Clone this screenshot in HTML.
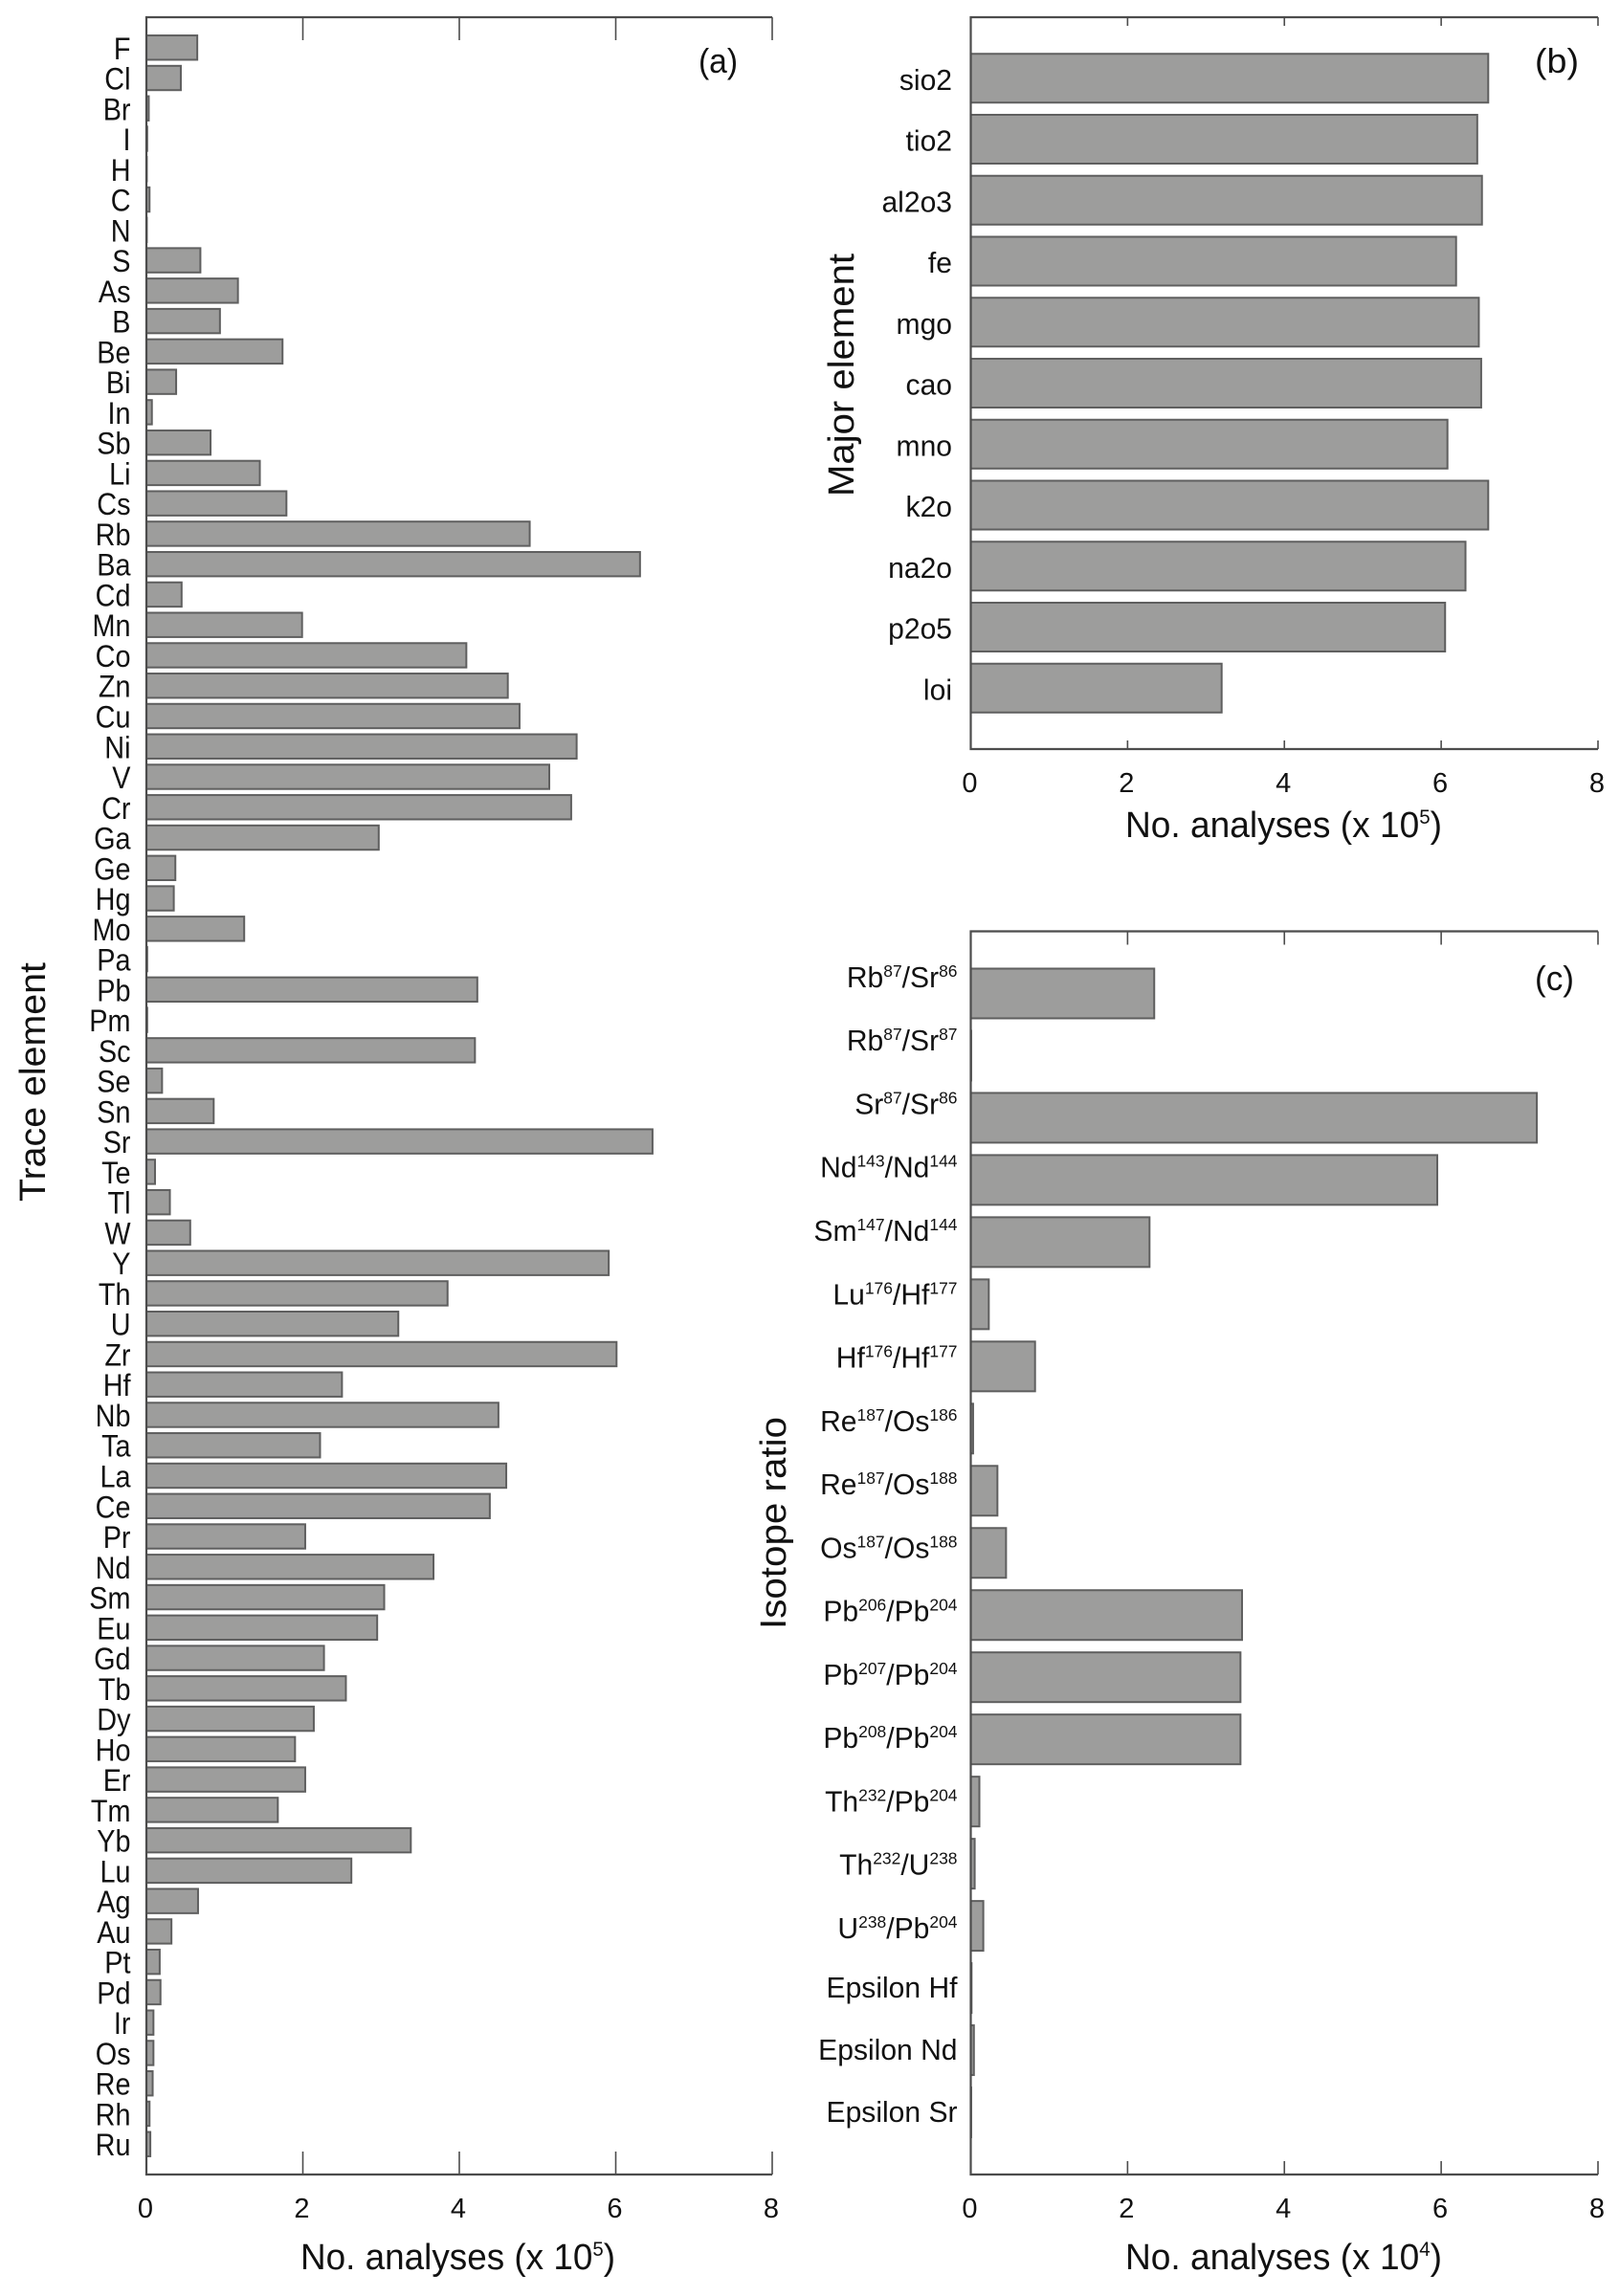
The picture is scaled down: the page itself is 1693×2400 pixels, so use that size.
<!DOCTYPE html>
<html lang="en">
<head>
<meta charset="utf-8">
<title>Number of analyses by trace element, major element and isotope ratio</title>
<style>
html,body{margin:0;padding:0;background:#fff;}
svg{display:block;font-family:"Liberation Sans",sans-serif;fill:#111;}
</style>
</head>
<body>
<svg id="figure" xmlns="http://www.w3.org/2000/svg" width="1693" height="2400" viewBox="0 0 1693 2400">
<rect x="0" y="0" width="1693" height="2400" fill="#fff"/>
<text transform="translate(47,1131) rotate(-90)" text-anchor="middle" font-size="38" textLength="250" lengthAdjust="spacingAndGlyphs">Trace element</text>
<text transform="translate(892,392) rotate(-90)" text-anchor="middle" font-size="38" textLength="254" lengthAdjust="spacingAndGlyphs">Major element</text>
<text transform="translate(821,1592) rotate(-90)" text-anchor="middle" font-size="38" textLength="222" lengthAdjust="spacingAndGlyphs">Isotope ratio</text>
<text x="314" y="2372" font-size="38" textLength="329" lengthAdjust="spacingAndGlyphs">No. analyses (x 10<tspan font-size="21" dy="-14">5</tspan><tspan dy="14">)</tspan></text>
<text x="1176" y="875" font-size="38" textLength="331" lengthAdjust="spacingAndGlyphs">No. analyses (x 10<tspan font-size="21" dy="-14">5</tspan><tspan dy="14">)</tspan></text>
<text x="1176" y="2372" font-size="38" textLength="331" lengthAdjust="spacingAndGlyphs">No. analyses (x 10<tspan font-size="21" dy="-14">4</tspan><tspan dy="14">)</tspan></text>
<text x="730" y="76" font-size="36" textLength="41" lengthAdjust="spacingAndGlyphs">(a)</text>
<text x="1604" y="76" font-size="36" textLength="46" lengthAdjust="spacingAndGlyphs">(b)</text>
<text x="1604" y="1035" font-size="36" textLength="41" lengthAdjust="spacingAndGlyphs">(c)</text>
</svg>
<script>
var tickLabels = ["0", "2", "4", "6", "8"];
var tickValues = [0, 2, 4, 6, 8];

var traceCategories = ["F","Cl","Br","I","H","C","N","S","As","B","Be","Bi","In","Sb","Li","Cs","Rb","Ba","Cd","Mn","Co","Zn","Cu","Ni","V","Cr","Ga","Ge","Hg","Mo","Pa","Pb","Pm","Sc","Se","Sn","Sr","Te","Tl","W","Y","Th","U","Zr","Hf","Nb","Ta","La","Ce","Pr","Nd","Sm","Eu","Gd","Tb","Dy","Ho","Er","Tm","Yb","Lu","Ag","Au","Pt","Pd","Ir","Os","Re","Rh","Ru"];
var traceValues = [0.65,0.44,0.03,0.01,0.005,0.04,0.005,0.69,1.17,0.94,1.74,0.38,0.07,0.82,1.45,1.79,4.90,6.31,0.45,1.99,4.09,4.62,4.77,5.50,5.15,5.43,2.97,0.37,0.35,1.25,0.01,4.23,0.01,4.20,0.20,0.86,6.47,0.11,0.30,0.56,5.91,3.85,3.22,6.01,2.50,4.50,2.22,4.60,4.39,2.03,3.67,3.04,2.95,2.27,2.55,2.14,1.90,2.03,1.68,3.38,2.62,0.66,0.32,0.17,0.18,0.09,0.09,0.08,0.04,0.05];

var majorCategories = ["sio2","tio2","al2o3","fe","mgo","cao","mno","k2o","na2o","p2o5","loi"];
var majorValues = [6.60,6.46,6.52,6.19,6.48,6.51,6.08,6.60,6.31,6.05,3.20];

var isotopeCategories = ["Rb^87/Sr^86","Rb^87/Sr^87","Sr^87/Sr^86","Nd^143/Nd^144","Sm^147/Nd^144","Lu^176/Hf^177","Hf^176/Hf^177","Re^187/Os^186","Re^187/Os^188","Os^187/Os^188","Pb^206/Pb^204","Pb^207/Pb^204","Pb^208/Pb^204","Th^232/Pb^204","Th^232/U^238","U^238/Pb^204","Epsilon Hf","Epsilon Nd","Epsilon Sr"];
var isotopeValues = [2.34,0.005,7.22,5.95,2.28,0.23,0.82,0.03,0.34,0.45,3.46,3.44,3.44,0.11,0.05,0.16,0.01,0.04,0.005];

var svg = document.getElementById("figure");
var NS = "http://www.w3.org/2000/svg";

function drawPanel(id, cats, vals, box, opt) {
  function xs(v) { return box.left + (v / 8) * (box.right - box.left); }
  function ys(r) { return box.top + (r / (cats.length + 1)) * (box.bottom - box.top); }
  var g = document.createElementNS(NS, "g");
  
  
  svg.appendChild(g);

  var step = ys(1) - ys(0);
  cats.forEach(function (cat, i) {
    var c = ys(i + 1);
    var bar = document.createElementNS(NS, "rect");
    
    
    bar.setAttribute("x", xs(0));
    bar.setAttribute("y", c - step * 0.4);
    bar.setAttribute("width", xs(vals[i]) - xs(0));
    bar.setAttribute("height", step * 0.8);
    bar.setAttribute("fill", "#9d9d9c");
    bar.setAttribute("stroke", "#5f5f5f");
    bar.setAttribute("stroke-width", "2");
    g.appendChild(bar);

    var label = document.createElementNS(NS, "text");
    
    
    var hasSup = cat.indexOf("^") >= 0;
    var by = c + opt.baseline;
    if (hasSup) { by = c - 6.6 + 1.3 * i; }
    label.setAttribute("transform", "translate(" + opt.labelRight + "," + by + ") scale(" + opt.labelScale + ",1)");
    label.setAttribute("text-anchor", "end");
    label.setAttribute("font-size", opt.labelSize);
    var parts = cat.split(/(\^\d+)/);
    var shifted = false;
    parts.forEach(function (p) {
      if (!p) { return; }
      var sp = document.createElementNS(NS, "tspan");
      if (p.charAt(0) === "^") {
        sp.setAttribute("font-size", "18");
        sp.setAttribute("dy", "-11");
        sp.textContent = p.slice(1);
        shifted = true;
      } else {
        if (shifted) { sp.setAttribute("dy", "11"); shifted = false; }
        sp.textContent = p;
      }
      label.appendChild(sp);
    });
    g.appendChild(label);
  });

  var frame = document.createElementNS(NS, "path");
  
  
  frame.setAttribute("d", "M" + box.right + " " + box.top + "H" + box.left + "V" + box.bottom + "H" + box.right);
  frame.setAttribute("fill", "none");
  frame.setAttribute("stroke", "#4c4c4c");
  frame.setAttribute("stroke-width", "2.2");
  g.appendChild(frame);

  tickValues.forEach(function (t, i) {
    var top = document.createElementNS(NS, "line");
    
    
    top.setAttribute("x1", xs(t));
    top.setAttribute("x2", xs(t));
    top.setAttribute("y1", box.top);
    top.setAttribute("y2", box.top + opt.tick);
    top.setAttribute("stroke", "#4c4c4c");
    top.setAttribute("stroke-width", "1.6");
    g.appendChild(top);

    var bottom = document.createElementNS(NS, "line");
    
    
    bottom.setAttribute("x1", xs(t));
    bottom.setAttribute("x2", xs(t));
    bottom.setAttribute("y1", box.bottom);
    bottom.setAttribute("y2", box.bottom - opt.tick);
    bottom.setAttribute("stroke", "#4c4c4c");
    bottom.setAttribute("stroke-width", "1.6");
    g.appendChild(bottom);

    var tl = document.createElementNS(NS, "text");
    
    
    tl.setAttribute("x", xs(t) - 1);
    tl.setAttribute("y", box.bottom + opt.tickLabelOffset);
    tl.setAttribute("text-anchor", "middle");
    tl.setAttribute("font-size", "29");
    tl.textContent = tickLabels[i];
    g.appendChild(tl);
  });
}

drawPanel("a", traceCategories, traceValues,
  {left: 153, right: 807, top: 18, bottom: 2273},
  {labelRight: 136.5, labelSize: 32, labelScale: 0.9, baseline: 12, tick: 24, tickLabelOffset: 45});
drawPanel("b", majorCategories, majorValues,
  {left: 1014.5, right: 1670, top: 18, bottom: 783},
  {labelRight: 995, labelSize: 31, labelScale: 0.97, baseline: 12, tick: 9, tickLabelOffset: 45});
drawPanel("c", isotopeCategories, isotopeValues,
  {left: 1014.5, right: 1670, top: 973.5, bottom: 2273},
  {labelRight: 1000.5, labelSize: 31, labelScale: 0.97, baseline: 10, tick: 14, tickLabelOffset: 45});
</script>
</body>
</html>
